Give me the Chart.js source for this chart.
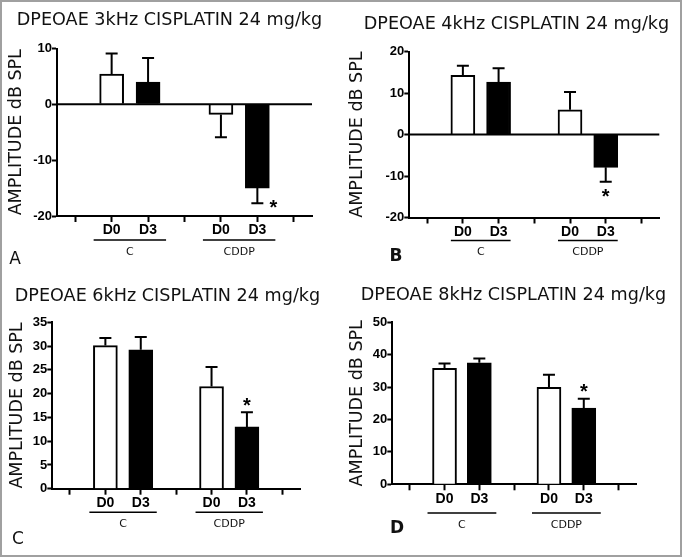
<!DOCTYPE html>
<html>
<head>
<meta charset="utf-8">
<script src="https://cdn.jsdelivr.net/npm/chart.js@4.4.0/dist/chart.umd.min.js"></script>
<style>
body { margin: 0; background: #fff; }
#fig { position: relative; width: 682px; height: 557px; }
#fig canvas { position: absolute; }
#frame { position: absolute; left: 0; top: 0; width: 682px; height: 557px; box-sizing: border-box; border: 2px solid #a0a0a0; pointer-events: none; }
</style>
</head>
<body>
<div id="fig">
  <canvas id="c3k" width="341" height="278" style="left:0;top:0"></canvas>
  <canvas id="c4k" width="341" height="278" style="left:341px;top:0"></canvas>
  <canvas id="c6k" width="341" height="279" style="left:0;top:278px"></canvas>
  <canvas id="c8k" width="341" height="279" style="left:341px;top:278px"></canvas>
  <div id="frame"></div>
</div>
<script>
// x slots: separator, D0, D3, separator, D0, D3, separator
const xLabels = ['', 'D0', 'D3', '', 'D0', 'D3', ''];
const groupNames = ['C', 'CDDP'];
const barSlots = [1, 2, 4, 5];

// order of values: C-D0, C-D3, CDDP-D0, CDDP-D3
const mean3k = [5.4, 4.0, -1.8, -15.0];
const sd3k = [3.7, 4.3, 4.1, 2.7];
const mean4k = [14.3, 12.7, 6.0, -7.9];
const sd4k = [2.3, 3.3, 4.3, 3.5];
const mean6k = [30.1, 29.2, 21.5, 13.0];
const sd6k = [1.6, 2.7, 4.1, 3.1];
const mean8k = [35.8, 37.5, 29.9, 23.5];
const sd8k = [1.5, 1.3, 3.9, 2.9];
const signif = [false, false, false, true];

const yTicks3k = [-20, -10, 0, 10];
const yTicks4k = [-20, -10, 0, 10, 20];
const yTicks6k = [0, 5, 10, 15, 20, 25, 30, 35];
const yTicks8k = [0, 10, 20, 30, 40, 50];

Chart.defaults.font.family = '"Liberation Sans", Arial, sans-serif';
Chart.defaults.color = '#000';

const panels = [
  { id: 'c3k', title: 'DPEOAE 3kHz CISPLATIN 24 mg/kg', letter: 'A', mean: mean3k, sd: sd3k, ticks: yTicks3k,
    top: 48.5, right: 29, yWidth: 57, xHeight: 62, titleAt: [169.5, 20], letterAt: [15, 260], letterBold: false,
    yTitlePad: 6, star: 'right', groupY: 24, lineExtra: 6 },
  { id: 'c4k', title: 'DPEOAE 4kHz CISPLATIN 24 mg/kg', letter: 'B', mean: mean4k, sd: sd4k, ticks: yTicks4k,
    top: 51.7, right: 22.7, yWidth: 68.3, xHeight: 60.5, titleAt: [175.5, 24], letterAt: [55, 257], letterBold: true,
    yTitlePad: 6, star: 'below', groupY: 23, lineExtra: 0 },
  { id: 'c6k', title: 'DPEOAE 6kHz CISPLATIN 24 mg/kg', letter: 'C', mean: mean6k, sd: sd6k, ticks: yTicks6k,
    top: 44.3, right: 41, yWidth: 52.3, xHeight: 68.3, titleAt: [167.5, 18.5], letterAt: [18, 262], letterBold: false,
    yTitlePad: 7, star: 'above', groupY: 23.6, lineExtra: 4 },
  { id: 'c8k', title: 'DPEOAE 8kHz CISPLATIN 24 mg/kg', letter: 'D', mean: mean8k, sd: sd8k, ticks: yTicks8k,
    top: 44.3, right: 46, yWidth: 51.3, xHeight: 72.7, titleAt: [172.5, 17], letterAt: [56, 251], letterBold: true,
    yTitlePad: 5.5, star: 'above', groupY: 28.7, lineExtra: 5 }
];

function decor(p) {
  return {
    id: 'decor',
    afterDraw(chart) {
      const ctx = chart.ctx;
      const xs = chart.scales.x, ys = chart.scales.y;
      const area = chart.chartArea;
      ctx.save();
      ctx.strokeStyle = '#000';
      ctx.lineWidth = 2;

      // zero line over the bar bases when the axis goes below zero
      if (p.ticks[0] < 0) {
        const zy = ys.getPixelForValue(0);
        ctx.beginPath();
        ctx.moveTo(area.left, zy);
        ctx.lineTo(area.right, zy);
        ctx.stroke();
      }

      // error bars (one-sided, away from zero) and significance marks
      barSlots.forEach((slot, i) => {
        const m = p.mean[i];
        const end = m >= 0 ? m + p.sd[i] : m - p.sd[i];
        const bx = xs.getPixelForValue(slot);
        const y0 = ys.getPixelForValue(m);
        const y1 = ys.getPixelForValue(end);
        ctx.beginPath();
        ctx.moveTo(bx, y0);
        ctx.lineTo(bx, y1);
        ctx.moveTo(bx - 6, y1);
        ctx.lineTo(bx + 6, y1);
        ctx.stroke();
        if (signif[i]) {
          let sx = bx, sy = y1;
          if (p.star === 'right') sx = bx + 16;
          else if (p.star === 'below') sy = y1 + 11;
          else sy = y1 - 11;
          ctx.fillStyle = '#000';
          ctx.font = 'bold 20px "Liberation Sans"';
          ctx.textAlign = 'center';
          ctx.textBaseline = 'middle';
          ctx.fillText('*', sx, sy + 5);
        }
      });

      ctx.fillStyle = '#111';
      ctx.textAlign = 'center';
      ctx.textBaseline = 'middle';
      ctx.font = '17.6px "DejaVu Sans"';
      ctx.fillText(p.title, p.titleAt[0], p.titleAt[1]);

      ctx.font = (p.letterBold ? 'bold ' : '') + '17px "DejaVu Sans"';
      ctx.fillText(p.letter, p.letterAt[0], p.letterAt[1]);

      const ly = area.bottom + p.groupY;
      ctx.lineWidth = 1.5;
      ctx.font = '11px "DejaVu Sans"';
      groupNames.forEach((g, gi) => {
        const x0 = xs.getPixelForValue(barSlots[gi * 2]) - 12 - p.lineExtra;
        const x1 = xs.getPixelForValue(barSlots[gi * 2 + 1]) + 12 + p.lineExtra;
        ctx.beginPath();
        ctx.moveTo(x0, ly);
        ctx.lineTo(x1, ly);
        ctx.stroke();
        ctx.fillText(g, (x0 + x1) / 2, ly + 12);
      });
      ctx.restore();
    }
  };
}

panels.forEach(p => {
  const values = xLabels.map(() => null);
  barSlots.forEach((slot, i) => { values[slot] = p.mean[i]; });
  const ctx = document.getElementById(p.id).getContext('2d');
  new Chart(ctx, {
    type: 'bar',
    data: {
      labels: xLabels,
      datasets: [{
        data: values,
        backgroundColor: xLabels.map(l => l === 'D3' ? '#000' : '#fff'),
        borderColor: '#000',
        borderWidth: 2,
        borderSkipped: 'start',
        barThickness: 24
      }]
    },
    options: {
      responsive: false,
      animation: false,
      devicePixelRatio: 1,
      layout: { padding: { top: p.top, right: p.right, bottom: 0, left: 0 } },
      plugins: { legend: { display: false }, tooltip: { enabled: false }, title: { display: false } },
      scales: {
        x: {
          offset: true,
          z: 1,
          grid: { display: true, drawOnChartArea: false, offset: false, tickLength: 6, tickColor: '#000', tickWidth: 2 },
          border: { display: true, color: '#000', width: 2 },
          ticks: { font: { size: 14, weight: 'bold' }, color: '#000', padding: 0, maxRotation: 0, autoSkip: false },
          afterFit(scale) { scale.height = p.xHeight; }
        },
        y: {
          min: p.ticks[0],
          max: p.ticks[p.ticks.length - 1],
          z: 1,
          ticks: { stepSize: p.ticks[1] - p.ticks[0], font: { size: 13, weight: 'bold' }, color: '#000', padding: 0 },
          grid: { drawOnChartArea: false, tickColor: '#000', tickLength: 5, tickWidth: 2 },
          border: { display: true, color: '#000', width: 2 },
          title: { display: true, text: 'AMPLITUDE dB SPL', font: { family: '"DejaVu Sans"', size: 17.5, weight: 'normal' }, color: '#111', padding: { top: p.yTitlePad, bottom: 0 } },
          afterFit(scale) { scale.width = p.yWidth; }
        }
      }
    },
    plugins: [decor(p)]
  });
});
</script>
</body>
</html>
